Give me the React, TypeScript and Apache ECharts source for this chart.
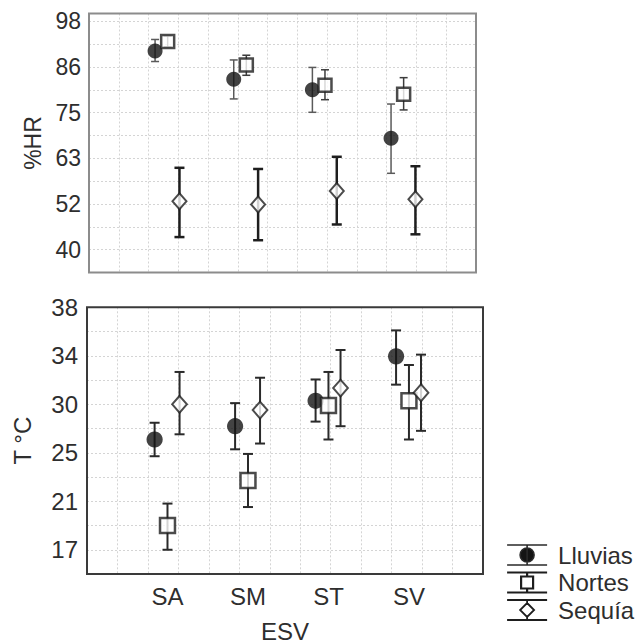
import React, { useEffect, useRef } from 'react';
import * as echarts from 'echarts';

// ---------- data ----------
const categories = ['SA', 'SM', 'ST', 'SV'];
const seriesNames = ['Lluvias', 'Nortes', 'Sequía'];

const hrTickLabels = [40, 52, 63, 75, 86, 98];
const tTickLabels = [17, 21, 25, 30, 34, 38];

// %HR (top panel)
const hrLluviasMean = [90.5, 83.3, 80.6, 68.3];
const hrLluviasLow = [87.8, 78.3, 74.9, 59.4];
const hrLluviasHigh = [93.4, 88.2, 86.3, 77.0];

const hrNortesMean = [92.9, 86.9, 81.8, 79.5];
const hrNortesLow = [91.5, 84.3, 78.1, 75.5];
const hrNortesHigh = [94.3, 89.4, 85.7, 83.7];

const hrSequiaMean = [52.3, 51.5, 54.9, 52.8];
const hrSequiaLow = [43.2, 42.4, 46.4, 43.9];
const hrSequiaHigh = [60.8, 60.5, 63.6, 61.2];

// T °C (bottom panel)
const tLluviasMean = [26.55, 27.7, 29.9, 33.75];
const tLluviasLow = [25.1, 25.7, 28.1, 31.3];
const tLluviasHigh = [28.0, 29.7, 31.75, 36.0];

const tNortesMean = [19.1, 23.0, 29.5, 29.9];
const tNortesLow = [17.0, 20.7, 26.55, 26.55];
const tNortesHigh = [21.0, 25.3, 32.4, 33.0];

const tSequiaMean = [29.6, 29.1, 31.0, 30.6];
const tSequiaLow = [27.0, 26.2, 27.7, 27.3];
const tSequiaHigh = [32.4, 31.9, 34.3, 33.9];

// ---------- layout / style ----------
const OFFSETS = [-0.16, 0, 0.15];
const FONT = 'Liberation Sans, Arial, Helvetica, sans-serif';
const TEXT = '#2e2e2e';
const GRIDLINE = { color: '#d4d4d4', width: 1, type: [2, 2] as any };

const HR_MIN = 34.2;
const HR_STEP = 5.8;
const T_MIN = 14.9;
const T_STEP = 2.1;

function tickFormatter(min: number, step: number, labels: number[]) {
  return (v: number) => {
    const i = Math.round((v - min) / step);
    if (Math.abs(v - (min + i * step)) > 0.01) return '';
    if (i % 2 !== 1) return '';
    const k = (i - 1) / 2;
    return k >= 0 && k < labels.length ? String(labels[k]) : '';
  };
}

function errorBars(
  name: string,
  axisIdx: number,
  yIdx: number,
  offset: number,
  low: number[],
  high: number[],
  color: string,
  width: number,
  cap: number
) {
  return {
    type: 'custom',
    name,
    xAxisIndex: axisIdx,
    yAxisIndex: yIdx,
    z: 2,
    silent: true,
    encode: { x: 0, y: [1, 2] },
    data: categories.map((_, i) => [i + 1 + offset, low[i], high[i]]),
    renderItem: (_params: any, api: any) => {
      const x = api.value(0);
      const pLo = api.coord([x, api.value(1)]);
      const pHi = api.coord([x, api.value(2)]);
      const st = { stroke: color, lineWidth: width, fill: 'none' };
      return {
        type: 'group',
        children: [
          { type: 'line', shape: { x1: pHi[0], y1: pHi[1], x2: pLo[0], y2: pLo[1] }, style: st },
          { type: 'line', shape: { x1: pHi[0] - cap, y1: pHi[1], x2: pHi[0] + cap, y2: pHi[1] }, style: st },
          { type: 'line', shape: { x1: pLo[0] - cap, y1: pLo[1], x2: pLo[0] + cap, y2: pLo[1] }, style: st },
        ],
      };
    },
  };
}

function markers(name: string, axisIdx: number, yIdx: number, offset: number, mean: number[], kind: number, scale: number) {
  const base: any = {
    type: 'scatter',
    name,
    xAxisIndex: axisIdx,
    yAxisIndex: yIdx,
    z: 5,
    data: categories.map((_, i) => [i + 1 + offset, mean[i]]),
  };
  if (kind === 0) {
    base.symbol = 'circle';
    base.symbolSize = 15 * scale;
    base.itemStyle = { color: '#141414', borderColor: '#141414', borderWidth: 0 };
  } else if (kind === 1) {
    base.symbol = 'rect';
    base.symbolSize = 13 * scale;
    base.itemStyle = { color: '#ffffff', borderColor: '#1e1e1e', borderWidth: 2.5 };
  } else {
    base.symbol = 'diamond';
    base.symbolSize = [14 * scale, 16 * scale];
    base.itemStyle = { color: '#ffffff', borderColor: '#1e1e1e', borderWidth: 2 };
  }
  return base;
}

// legend icons (40 x 20 boxes)
const BARS = 'M0 0 L40 0 Z M0 20 L40 20 Z ';
const ICON_CIRCLE = 'path://' + BARS + 'M20 0 L20 20 Z M13 10 A7 7 0 1 1 27 10 A7 7 0 1 1 13 10 Z';
const ICON_SQUARE = 'path://' + BARS + 'M20 0 L20 4 Z M20 16 L20 20 Z M14 4 L26 4 L26 16 L14 16 Z';
const ICON_DIAMOND = 'path://' + BARS + 'M20 0 L20 3 Z M20 17 L20 20 Z M20 3 L27 10 L20 17 L13 10 Z';

export default function App() {
  const ref = useRef<HTMLDivElement>(null);

  useEffect(() => {
    if (!ref.current) return;
    const chart = echarts.init(ref.current, null, { renderer: 'svg' });

    const dataAxisCommon = {
      type: 'value',
      min: 0,
      max: 4.92,
      interval: 1,
      axisLine: { show: false },
      axisTick: { show: false },
      splitLine: { show: false },
    };
    const gridAxis = (gridIndex: number) => ({
      type: 'value',
      gridIndex,
      position: 'top',
      min: 0,
      max: 13,
      interval: 1,
      axisLine: { show: false },
      axisTick: { show: false },
      axisLabel: { show: false },
      splitLine: { show: true, showMinLine: false, showMaxLine: false, lineStyle: GRIDLINE },
    });

    const option: any = {
      animation: false,
      textStyle: { fontFamily: FONT, color: TEXT },
      grid: [
        { left: 89, top: 13.5, width: 387, height: 259, show: true, borderColor: '#8c8c8c', borderWidth: 2, backgroundColor: 'transparent', z: 3 },
        { left: 87, top: 307.3, width: 396, height: 268, show: true, borderColor: '#3a3a3a', borderWidth: 2, backgroundColor: 'transparent', z: 3 },
      ],
      xAxis: [
        { ...dataAxisCommon, gridIndex: 0, position: 'bottom', axisLabel: { show: false } },
        gridAxis(0),
        {
          ...dataAxisCommon,
          gridIndex: 1,
          position: 'bottom',
          axisLabel: {
            show: true,
            fontSize: 24,
            color: TEXT,
            margin: 10,
            fontFamily: FONT,
            formatter: (v: number) => {
              const i = Math.round(v);
              if (Math.abs(v - i) > 1e-6) return '';
              return categories[i - 1] ?? '';
            },
          },
          name: 'ESV',
          nameLocation: 'middle',
          nameGap: 45,
          nameTextStyle: { fontSize: 24, color: TEXT, fontFamily: FONT },
        },
        gridAxis(1),
      ],
      yAxis: [
        {
          type: 'value',
          gridIndex: 0,
          min: HR_MIN,
          max: 100,
          interval: HR_STEP,
          axisLine: { show: false },
          axisTick: { show: false },
          axisLabel: { fontSize: 23, color: TEXT, margin: 8, fontFamily: FONT, formatter: tickFormatter(HR_MIN, HR_STEP, hrTickLabels) },
          splitLine: { show: true, showMinLine: false, showMaxLine: false, lineStyle: GRIDLINE },
          name: '%HR',
          nameLocation: 'middle',
          nameRotate: 90,
          nameGap: 44,
          nameTextStyle: { fontSize: 23, color: TEXT, fontFamily: FONT },
        },
        {
          type: 'value',
          gridIndex: 1,
          min: T_MIN,
          max: 38,
          interval: T_STEP,
          axisLine: { show: false },
          axisTick: { show: false },
          axisLabel: { fontSize: 24, color: TEXT, margin: 9, fontFamily: FONT, formatter: tickFormatter(T_MIN, T_STEP, tTickLabels) },
          splitLine: { show: true, showMinLine: false, showMaxLine: false, lineStyle: GRIDLINE },
          name: 'T °C',
          nameLocation: 'middle',
          nameRotate: 90,
          nameGap: 53,
          nameTextStyle: { fontSize: 24, color: TEXT, fontFamily: FONT },
        },
      ],
      legend: {
        orient: 'vertical',
        left: 501,
        top: 538,
        itemWidth: 40,
        itemHeight: 20,
        itemGap: 3.5,
        selectedMode: false,
        textStyle: { fontSize: 24, color: TEXT, fontFamily: FONT, padding: [0, 0, 0, 6] },
        data: [
          { name: seriesNames[0], icon: ICON_CIRCLE, itemStyle: { color: '#141414', borderColor: '#2a2a2a', borderWidth: 1.6 } },
          { name: seriesNames[1], icon: ICON_SQUARE, itemStyle: { color: '#ffffff', borderColor: '#1e1e1e', borderWidth: 2.2 } },
          { name: seriesNames[2], icon: ICON_DIAMOND, itemStyle: { color: '#ffffff', borderColor: '#1e1e1e', borderWidth: 1.8 } },
        ],
      },
      series: [
        // top panel: %HR
        errorBars(seriesNames[0], 0, 0, OFFSETS[0], hrLluviasLow, hrLluviasHigh, '#5a5a5a', 1.5, 4),
        errorBars(seriesNames[1], 0, 0, OFFSETS[1], hrNortesLow, hrNortesHigh, '#3c3c3c', 1.5, 4),
        errorBars(seriesNames[2], 0, 0, OFFSETS[2], hrSequiaLow, hrSequiaHigh, '#1e1e1e', 2.5, 5),
        markers(seriesNames[0], 0, 0, OFFSETS[0], hrLluviasMean, 0, 1),
        markers(seriesNames[1], 0, 0, OFFSETS[1], hrNortesMean, 1, 1),
        markers(seriesNames[2], 0, 0, OFFSETS[2], hrSequiaMean, 2, 1),
        // bottom panel: T °C
        errorBars(seriesNames[0], 2, 1, OFFSETS[0], tLluviasLow, tLluviasHigh, '#2a2a2a', 2, 5),
        errorBars(seriesNames[1], 2, 1, OFFSETS[1], tNortesLow, tNortesHigh, '#2a2a2a', 2, 5),
        errorBars(seriesNames[2], 2, 1, OFFSETS[2], tSequiaLow, tSequiaHigh, '#2a2a2a', 2, 5),
        markers(seriesNames[0], 2, 1, OFFSETS[0], tLluviasMean, 0, 1.08),
        markers(seriesNames[1], 2, 1, OFFSETS[1], tNortesMean, 1, 1.15),
        markers(seriesNames[2], 2, 1, OFFSETS[2], tSequiaMean, 2, 1.05),
      ],
    };

    chart.setOption(option);
    return () => chart.dispose();
  }, []);

  return (
    <div
      ref={ref}
      style={{ position: 'fixed', left: 0, top: 0, width: 636, height: 644, background: '#ffffff' }}
    />
  );
}
